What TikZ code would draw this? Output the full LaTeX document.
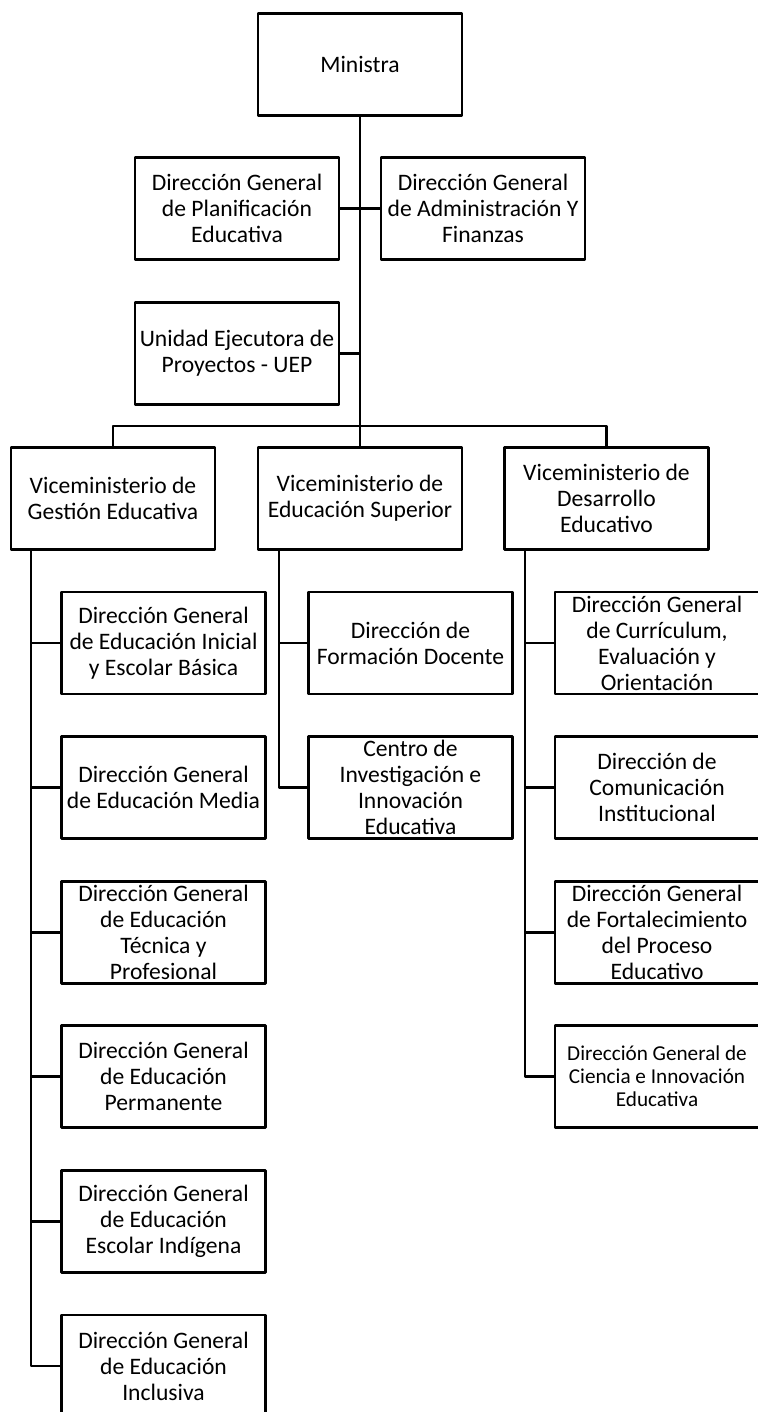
\documentclass[tikz,border=0pt]{standalone}
\usepackage{fontspec}
\setmainfont{Carlito}

\begin{document}
\begin{tikzpicture}[line cap=round,line join=round,x=0.5pt,y=-0.5pt,
		caja/.style={draw,line width=1.2pt,minimum width=102pt,minimum height=51pt,inner sep=0pt,align=center,
			font=\fontsize{11.8pt}{13pt}\selectfont},
		linea/.style={line width=1.2pt,line cap=rect}]
				\useasboundingbox (0,0) rectangle (758,1412);
				\clip (0,0) rectangle (758,1412);
				% nivel superior
				\node[caja] (minis) at (360,64.5) {Ministra};
				\node[caja] (dgpe) at (237,208.5) {Dirección General\\de Planificación\\Educativa};
				\node[caja] (dgaf) at (483,208.5) {Dirección General\\de Administración Y\\Finanzas};
				\node[caja] (uep) at (237,353.5) {Unidad Ejecutora de\\Proyectos - UEP};
				% viceministerios
				\node[caja] (vmge) at (113,498.5) {Viceministerio de\\Gestión Educativa};
				\node[caja] (vmes) at (360,498.5) {Viceministerio de\\Educación Superior};
				\node[caja] (vmde) at (606.5,498.5) {Viceministerio de\\Desarrollo\\Educativo};
				% gestion educativa
				\node[caja] (dgeieb) at (163.5,643) {Dirección General\\de Educación Inicial\\y Escolar Básica};
				\node[caja] (dgem) at (163.5,787.5) {Dirección General\\de Educación Media};
				\node[caja] (dgetp) at (163.5,932.5) {Dirección General\\de Educación\\Técnica y\\Profesional};
				\node[caja] (dgep) at (163.5,1076.5) {Dirección General\\de Educación\\Permanente};
				\node[caja] (dgeei) at (163.5,1221.5) {Dirección General\\de Educación\\Escolar Indígena};
				\node[caja] (dgein) at (163.5,1366) {Dirección General\\de Educación\\Inclusiva};
				% educacion superior
				\node[caja] (dfd) at (410.5,643) {Dirección de\\Formación Docente};
				\node[caja] (cin) at (410.5,787.5) {Centro de\\Investigación e\\Innovación\\Educativa};
				% desarrollo educativo
				\node[caja] (dgceo) at (657,643) {Dirección General\\de Currículum,\\Evaluación y\\Orientación};
				\node[caja] (dci) at (657,787.5) {Dirección de\\Comunicación\\Institucional};
				\node[caja] (dgfpe) at (657,932.5) {Dirección General\\de Fortalecimiento\\del Proceso\\Educativo};
				\node[caja,font=\fontsize{10.6pt}{11.5pt}\selectfont] (dgcie) at (657,1076.5) {Dirección General de\\Ciencia e Innovación\\Educativa};
				% conectores
				\coordinate (bus) at (360,426);
				\coordinate (sp1) at (31,549);
				\coordinate (sp2) at (279,549);
				\coordinate (sp3) at (525,549);
				\draw[linea] (minis) -- (vmes);
				\draw[linea] (dgpe) -- (dgaf);
				\draw[linea] (uep.east) -- (uep.east -| minis.south);
				\draw[linea] (vmge.north) |- (bus) -| (vmde.north);
				\draw[linea] (sp1) |- (dgein.west);
				\foreach \n in {dgeieb,dgem,dgetp,dgep,dgeei}
					\draw[linea] (\n.west) -- (\n.west -| sp1);
				\draw[linea] (sp2) |- (cin.west);
				\draw[linea] (dfd.west) -- (dfd.west -| sp2);
				\draw[linea] (sp3) |- (dgcie.west);
				\foreach \n in {dgceo,dci,dgfpe}
					\draw[linea] (\n.west) -- (\n.west -| sp3);
			\end{tikzpicture}
\end{document}
